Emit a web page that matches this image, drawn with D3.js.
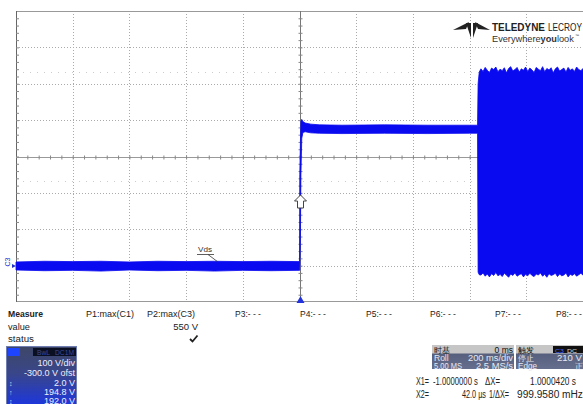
<!DOCTYPE html>
<html><head><meta charset="utf-8">
<script src="https://cdn.jsdelivr.net/npm/d3@7"></script>
<style>body{margin:0;background:#fff}svg{display:block;font-family:"Liberation Sans",Arial,sans-serif}</style>
</head><body><svg id="c" width="583" height="404"></svg>
<script>
// ---- data (time in s, Vds envelope in V) ----
const timeS = [-1.00,-0.90,-0.80,-0.70,-0.60,-0.50,-0.40,-0.30,-0.20,-0.10,0.000,
  0.001,0.003,0.005,0.008,0.012,0.02,0.04,0.07,0.15,0.30,0.45,0.60,0.628,
  0.630,0.634,
  0.640,0.6475,0.655,0.6625,0.670,0.6775,0.685,0.6925,0.700,0.7075,0.715,0.7225,0.730,0.7375,0.745,0.7525,
  0.760,0.7675,0.775,0.7825,0.790,0.7975,0.805,0.8125,0.820,0.8275,0.835,0.8425,0.850,0.8575,0.865,0.8725,
  0.880,0.8875,0.895,0.9025,0.910,0.9175,0.925,0.9325,0.940,0.9475,0.955,0.9625,0.970,0.9775,0.985,0.9925,1.000];
const vMax = [10,12,11,12,10,12,11,12,11,12,11,
  250,330,398,402,396,392,389,387,386,387,386,386,386,
  500,532,
  541,534,545,537,531,543,539,546,533,540,536,544,530,542,547,535,
  539,545,532,541,537,546,534,543,538,531,545,540,536,547,533,542,
  538,544,530,541,546,535,539,543,532,545,537,541,534,546,539,536,542];
const vMin = [-12,-14,-13,-15,-12,-14,-13,-15,-13,-14,-13,
  -13,60,250,350,366,368,365,364,363,364,363,364,364,
  -18,-25,
  -26,-20,-29,-23,-31,-22,-27,-19,-28,-24,-30,-21,-26,-32,-23,-27,
  -20,-29,-25,-22,-31,-24,-28,-21,-27,-30,-23,-26,-20,-29,-24,-32,
  -22,-27,-25,-21,-30,-23,-28,-26,-20,-31,-24,-27,-22,-29,-25,-21,-26];
const xGrid = [-0.8,-0.6,-0.4,-0.2,0.2,0.4,0.6,0.8];
const yGrid = [0,100,200,400,500,600];
const measLabels = ["P1:max(C1)","P2:max(C3)","P3:- - -","P4:- - -","P5:- - -","P6:- - -","P7:- - -","P8:- - -"];
const chanLines = ["100 V/div","-300.0 V ofst","2.0 V","194.8 V","192.0 V"];

const svg = d3.select("#c");
const x = d3.scaleLinear().domain([-1,1]).range([16,583]);
const y = d3.scaleLinear().domain([-100,700]).range([302,11]);
const blue = "#0a0af0";

// text helper: horizontally condenses text (like the scope's narrow font) to a width
function txt(sel, t, xx, yy, o){
  o = o||{};
  const gg = sel.append("g");
  const e = gg.append("text").attr("x",0).attr("y",0).attr("font-size",o.fs||9)
    .attr("fill",o.fill||"#222").attr("text-anchor",o.anchor||"start").text(t);
  if(o.bold) e.attr("font-weight","bold");
  let sx = 1;
  if(o.w){ const nat = e.node().getComputedTextLength(); if(nat>0) sx = Math.min(1.15, o.w/nat); }
  gg.attr("transform",`translate(${xx},${yy}) scale(${sx},1)`);
  return e;
}

// grid
const g = svg.append("g");
g.selectAll(".vg").data(xGrid).join("line")
  .attr("x1",d=>Math.round(x(d))+0.5).attr("x2",d=>Math.round(x(d))+0.5)
  .attr("y1",11).attr("y2",302).attr("stroke","#aaa").attr("stroke-dasharray","1,2");
g.selectAll(".hg").data(yGrid).join("line")
  .attr("y1",d=>Math.round(y(d))+0.5).attr("y2",d=>Math.round(y(d))+0.5)
  .attr("x1",16).attr("x2",583).attr("stroke","#aaa").attr("stroke-dasharray","1,2");
[532,232].forEach(v=>g.append("line").attr("x1",16).attr("x2",583)
  .attr("y1",Math.round(y(v))+0.5).attr("y2",Math.round(y(v))+0.5)
  .attr("stroke","#ccc").attr("stroke-dasharray","1,6"));

// borders
g.append("line").attr("x1",16).attr("x2",583).attr("y1",11.5).attr("y2",11.5).attr("stroke","#999");
g.append("line").attr("x1",16).attr("x2",583).attr("y1",301.5).attr("y2",301.5).attr("stroke","#999");
g.append("line").attr("x1",16.5).attr("x2",16.5).attr("y1",11).attr("y2",302).attr("stroke","#666");

// minor ticks via axes
const minorX = d3.range(-50,51).map(i=>i*0.04).filter(d=>d>-1&&d<1);
const minorY = d3.range(-5,36).map(i=>i*20).filter(d=>d>-100&&d<700);
const cy = Math.round(y(300))+0.5, cx = Math.round(x(0))+0.5;
g.append("line").attr("x1",16).attr("x2",583).attr("y1",cy).attr("y2",cy).attr("stroke","#999");
g.append("line").attr("x1",cx).attr("x2",cx).attr("y1",11).attr("y2",302).attr("stroke","#777");
const ax1 = g.append("g").attr("transform",`translate(0,${cy-2})`)
  .call(d3.axisBottom(x).tickValues(minorX).tickSize(4).tickFormat(""));
const ax2 = g.append("g").attr("transform",`translate(${cx-2},0)`)
  .call(d3.axisRight(y).tickValues(minorY).tickSize(4).tickFormat(""));
const ax3 = g.append("g").attr("transform",`translate(16,0)`)
  .call(d3.axisRight(y).tickValues(minorY).tickSize(3).tickFormat(""));
[ax1,ax2,ax3].forEach(a=>{a.select(".domain").remove();a.selectAll("line").attr("stroke","#888");});

// trace envelope
const pts = timeS.map((t,i)=>({t,hi:vMax[i],lo:vMin[i]}));
svg.append("path").datum(pts)
  .attr("d",d3.area().x(d=>x(d.t)).y0(d=>y(d.lo)).y1(d=>y(d.hi)))
  .attr("fill",blue).attr("stroke",blue).attr("stroke-width",0.8);

// trigger arrow + trigger time marker
svg.append("path").attr("d",`M${cx},195 l6,6 h-3 v7 h-6 v-7 h-3 z`)
  .attr("fill","#fff").attr("stroke","#444").attr("stroke-width",1);
svg.append("path").attr("d",`M${cx},296 l4,7 h-8 z`).attr("fill","#2233dd");

// C3 label
svg.append("text").attr("transform","translate(9.5,262) rotate(-90)")
  .attr("text-anchor","middle").attr("font-size",7).attr("fill","#2233cc").text("C3");
svg.append("path").attr("d","M12,264 l4,2 l-4,2 z").attr("fill","#2233cc");

// Vds label
txt(svg,"Vds",198,252,{fs:7.5,fill:"#333",w:14});
svg.append("line").attr("x1",197).attr("x2",214).attr("y1",254.5).attr("y2",254.5).attr("stroke","#333").attr("stroke-width",0.8);
svg.append("line").attr("x1",208).attr("x2",218).attr("y1",254.5).attr("y2",262).attr("stroke","#333").attr("stroke-width",0.8);

// logo
const lg = svg.append("g").attr("fill","#222");
lg.append("path").attr("d","M453,30 L469,22 L466,29 Z");
lg.append("path").attr("d","M490,30 L475,22 L478,29 Z");
lg.append("path").attr("d","M466,23 L471,23 L471,38 Z");
lg.append("path").attr("d","M473,23 L478,23 L473,38 Z");
txt(svg,"TELEDYNE",492,31,{fs:10,bold:true,w:53});
txt(svg,"LECROY",548,31,{fs:10,w:34});
{
  const gg = svg.append("g");
  const t2 = gg.append("text").attr("x",0).attr("y",0).attr("font-size",9).attr("fill","#333");
  t2.append("tspan").text("Everywhere");
  t2.append("tspan").attr("font-weight","bold").text("you");
  t2.append("tspan").text("look");
  const nat = t2.node().getComputedTextLength();
  gg.attr("transform",`translate(492,41.5) scale(${82/nat},1)`);
}
txt(svg,"™",575,37,{fs:4,fill:"#333"});

// measure panel
txt(svg,"Measure",8,317,{fs:9.5,bold:true,w:35});
txt(svg,"value",8,330,{fs:9.5,w:22});
txt(svg,"status",8,342,{fs:9.5,w:26});
const mx = [86,147,235,300,366,430,495,556];
const mw = [48,48,26,26,26,26,26,26];
measLabels.forEach((d,i)=>txt(svg,d,mx[i],317,{fs:9.5,w:mw[i]}));
txt(svg,"550 V",198,330,{fs:9.5,anchor:"end"});
svg.append("path").attr("d","M190,339 l2.5,2.5 l5,-6").attr("fill","none").attr("stroke","#222").attr("stroke-width",1.8);

// channel box
const defs = svg.append("defs");
const gr = defs.append("linearGradient").attr("id","cg").attr("x1",0).attr("x2",0).attr("y1",0).attr("y2",1);
gr.append("stop").attr("offset","0").attr("stop-color","#3e4766");
gr.append("stop").attr("offset","0.45").attr("stop-color","#39468a");
gr.append("stop").attr("offset","1").attr("stop-color","#1c36e0");
svg.append("rect").attr("x",6.5).attr("y",346.5).attr("width",70).attr("height",60).attr("fill","url(#cg)").attr("stroke","#6f7db0");
svg.append("rect").attr("x",8).attr("y",348).attr("width",12).attr("height",8).attr("fill","#1f44ff");
svg.append("rect").attr("x",33).attr("y",348).attr("width",43).attr("height",8).attr("fill","#0b0f22");
txt(svg,"BwL",37,355,{fs:6.5,fill:"#3a4a9a",w:13});
txt(svg,"DC1M",55,355,{fs:6.5,fill:"#3a4a9a",w:19});
const cyv = [366,376,386,395,404];
chanLines.forEach((d,i)=>txt(svg,d,75,cyv[i],{fs:9,fill:"#eef",anchor:"end"}));
["↕","↑","↕"].forEach((s,i)=>txt(svg,s,9,cyv[i+2],{fs:7,fill:"#dde"}));

// timebase / trigger boxes
const gr2 = defs.append("linearGradient").attr("id","tg").attr("x1",0).attr("x2",0).attr("y1",0).attr("y2",1);
gr2.append("stop").attr("offset","0").attr("stop-color","#4d5673");
gr2.append("stop").attr("offset","1").attr("stop-color","#66708e");
const tb = svg.append("g");
tb.append("rect").attr("x",432).attr("y",345).attr("width",82).attr("height",24).attr("fill","url(#tg)");
tb.append("rect").attr("x",432).attr("y",345).attr("width",82).attr("height",8.5).attr("fill","#c6c6c6");
tb.append("rect").attr("x",516).attr("y",345).attr("width",67).attr("height",24).attr("fill","url(#tg)");
tb.append("rect").attr("x",516).attr("y",345).attr("width",67).attr("height",8.5).attr("fill","#c6c6c6");
tb.append("rect").attr("x",553).attr("y",346).attr("width",30).attr("height",7).attr("fill","#111");
txt(tb,"C3",555,352.5,{fs:6,fill:"#4d6bff",w:9});
txt(tb,"DC",567,352.5,{fs:6,fill:"#ddd",w:10});
const L="#e8e8f0";
txt(tb,"时基",434,352.5,{fs:8,fill:"#111"});
txt(tb,"0 ms",513,352.5,{fs:8.5,fill:"#111",anchor:"end"});
txt(tb,"Roll",434,360.5,{fs:8.5,fill:L});
txt(tb,"200 ms/div",513,360.5,{fs:8.5,fill:L,anchor:"end",w:45});
txt(tb,"5.00 MS",434,368.5,{fs:8.5,fill:L,w:28});
txt(tb,"2.5 MS/s",513,368.5,{fs:8.5,fill:L,anchor:"end",w:37});
txt(tb,"触发",518,352.5,{fs:8,fill:"#111"});
txt(tb,"停止",518,360.5,{fs:8,fill:L});
txt(tb,"210 V",557,360.5,{fs:8.5,fill:L,w:25});
txt(tb,"Edge",518,368.5,{fs:8.5,fill:L,w:19});
txt(tb,"正",575,368.5,{fs:8,fill:L});

// cursor readouts
const cr = svg.append("g");
const cf = 10;
txt(cr,"X1=",416,385,{fs:cf,w:13});
txt(cr,"-1.0000000 s",433,385,{fs:cf,w:45});
txt(cr,"ΔX=",485,385,{fs:cf,w:15});
txt(cr,"1.0000420 s",530,385,{fs:cf,w:46});
txt(cr,"X2=",416,398,{fs:cf,w:13});
txt(cr,"42.0 µs",462,398,{fs:cf,w:24});
txt(cr,"1/ΔX=",489,398,{fs:cf,w:20});
txt(cr,"999.9580 mHz",517,398,{fs:cf,w:66});
</script></body></html>
